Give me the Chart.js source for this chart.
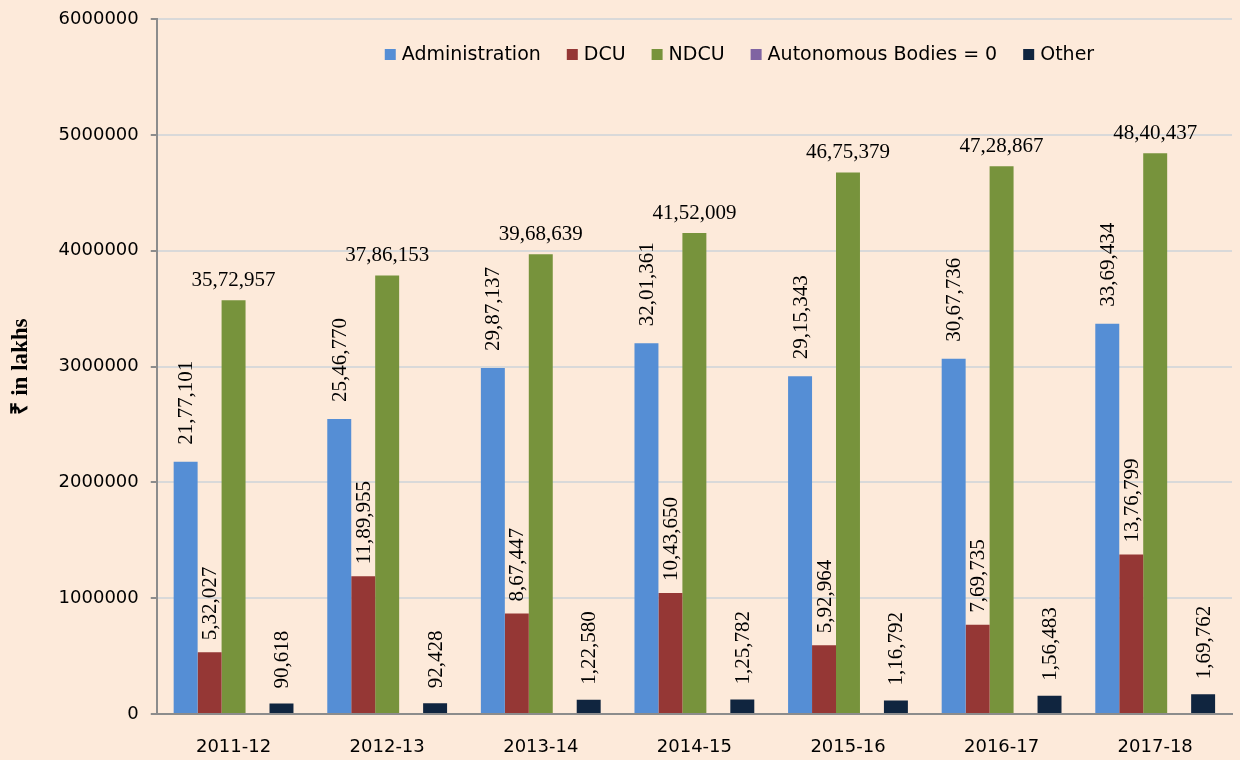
<!DOCTYPE html>
<html>
<head>
<meta charset="utf-8">
<script src="https://cdn.jsdelivr.net/npm/chart.js@4.4.1/dist/chart.umd.min.js"></script>
<style>
html,body{margin:0;padding:0;background:#FDEADA;}
#wrap{width:1240px;height:760px;position:relative;}
</style>
</head>
<body>
<div id="wrap"><canvas id="c" width="1240" height="760"></canvas></div>
<script>
const categories = ['2011-12','2012-13','2013-14','2014-15','2015-16','2016-17','2017-18'];
const administration = [2177101, 2546770, 2987137, 3201361, 2915343, 3067736, 3369434];
const dcu = [532027, 1189955, 867447, 1043650, 592964, 769735, 1376799];
const ndcu = [3572957, 3786153, 3968639, 4152009, 4675379, 4728867, 4840437];
const autonomous = [0, 0, 0, 0, 0, 0, 0];
const other = [90618, 92428, 122580, 125782, 116792, 156483, 169762];
const yTicks = [0, 1000000, 2000000, 3000000, 4000000, 5000000, 6000000];

function indian(n){
  const s = String(Math.round(n));
  if (s.length <= 3) return s;
  const last3 = s.slice(-3);
  let rest = s.slice(0, -3);
  const parts = [];
  while (rest.length > 2) { parts.unshift(rest.slice(-2)); rest = rest.slice(0, -2); }
  if (rest.length) parts.unshift(rest);
  return parts.join(',') + ',' + last3;
}

const sans = '"DejaVu Sans", "Open Sans", sans-serif';

const labelPlugin = {
  id: 'valueLabels',
  afterDatasetsDraw(chart){
    const ctx = chart.ctx;
    ctx.save();
    ctx.fillStyle = '#000';
    ctx.font = '21px "Liberation Serif", "Times New Roman", serif';
    chart.data.datasets.forEach((ds, di) => {
      if (ds.noLabel) return;
      const meta = chart.getDatasetMeta(di);
      meta.data.forEach((bar, i) => {
        const txt = indian(ds.data[i]);
        if (ds.horizontalLabel) {
          ctx.textAlign = 'center';
          ctx.textBaseline = 'bottom';
          ctx.fillText(txt, bar.x, bar.y - 9);
        } else {
          ctx.save();
          ctx.translate(bar.x, bar.y - ds.labelGap);
          ctx.rotate(-Math.PI/2);
          ctx.textAlign = 'left';
          ctx.textBaseline = 'middle';
          ctx.fillText(txt, 0, 1);
          ctx.restore();
        }
      });
    });
    ctx.restore();
  }
};

const legendPlugin = {
  id: 'innerLegend',
  afterDraw(chart){
    const ctx = chart.ctx;
    const area = chart.chartArea;
    ctx.save();
    ctx.font = '19px ' + sans;
    ctx.textBaseline = 'middle';
    ctx.textAlign = 'left';
    let x = area.left + 228;
    const y = area.top + 36;
    chart.data.datasets.forEach(ds => {
      ctx.fillStyle = ds.backgroundColor;
      ctx.fillRect(x, y - 6, 11, 11);
      ctx.fillStyle = '#000';
      ctx.fillText(ds.label, x + 17, y);
      x += 17 + ctx.measureText(ds.label).width + 26;
    });
    ctx.restore();
  }
};

new Chart(document.getElementById('c'), {
  type: 'bar',
  data: {
    labels: categories,
    datasets: [
      {label: 'Administration', data: administration, backgroundColor: '#558ED5', labelGap: 17},
      {label: 'DCU', data: dcu, backgroundColor: '#953735', labelGap: 12},
      {label: 'NDCU', data: ndcu, backgroundColor: '#77933C', horizontalLabel: true},
      {label: 'Autonomous Bodies = 0', data: autonomous, backgroundColor: '#8064A2', noLabel: true},
      {label: 'Other', data: other, backgroundColor: '#10253F', labelGap: 15}
    ]
  },
  options: {
    responsive: false,
    animation: false,
    devicePixelRatio: 1,
    layout: {padding: {top: 0, right: 8, bottom: 0, left: 7}},
    datasets: {bar: {categoryPercentage: 0.78, barPercentage: 1.0}},
    plugins: {
      legend: {display: false},
      tooltip: {enabled: false},
      title: {display: false}
    },
    scales: {
      x: {
        grid: {display: false, drawTicks: false},
        border: {color: '#8C8C8C', width: 2},
        ticks: {font: {family: sans, size: 18}, color: '#000', padding: 23},
        afterFit(axis){ axis.height = 46; }
      },
      y: {
        min: 0, max: 6000000,
        afterBuildTicks(axis){ axis.ticks = yTicks.map(v => ({value: v})); },
        afterFit(axis){ axis.paddingTop = 19; },
        grid: {color: '#D9D9D9', lineWidth: 2, tickColor: '#8C8C8C', tickLength: 6},
        border: {color: '#8C8C8C', width: 2},
        ticks: {font: {family: sans, size: 18}, color: '#000', padding: 12, callback: v => String(v)},
        title: {display: true, text: '₹ in lakhs', font: {family: '"Liberation Serif", serif', size: 23, weight: 'bold'}, color: '#000', padding: {top: 0, bottom: 12}}
      }
    }
  },
  plugins: [labelPlugin, legendPlugin]
});
</script>
</body>
</html>
